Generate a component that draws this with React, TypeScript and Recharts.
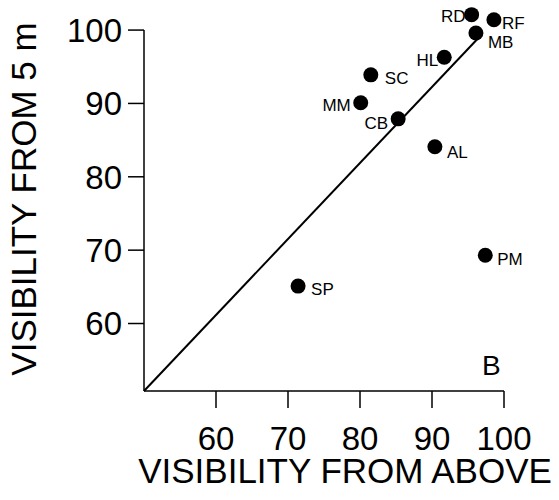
import { ScatterChart, Scatter, XAxis, YAxis, ReferenceLine, Label } from "recharts";

// sites, visibility from above (x) and from 5 m (y)
const sites = ["RD", "RF", "MB", "HL", "SC", "MM", "CB", "AL", "PM", "SP"];
const fromAbove = [95.5, 98.6, 96.1, 91.7, 81.5, 80.1, 85.3, 90.4, 97.4, 71.4];
const from5m = [102.1, 101.4, 99.6, 96.3, 93.9, 90.1, 87.9, 84.1, 69.3, 65.1];

const xTicks = [60, 70, 80, 90, 100];
const yTicks = [60, 70, 80, 90, 100];

const X_MIN = 50;
const Y_MIN = 50.8;

// fitted line drawn through the points
const fitLine = [
  { x: 50, y: 50.8 },
  { x: 97, y: 99.5 },
];

const data = sites.map((name, i) => ({ name, x: fromAbove[i], y: from5m[i] }));

const FONT = '"Liberation Sans", Arial, Helvetica, sans-serif';

// where each site's label sits next to its dot
const labelPlacement: Record<string, { anchor: "start" | "end"; dx: number; dy: number }> = {
  RD: { anchor: "end", dx: -6, dy: 7 },
  RF: { anchor: "start", dx: 8, dy: 9 },
  MB: { anchor: "start", dx: 12, dy: 15 },
  HL: { anchor: "end", dx: -6, dy: 9 },
  SC: { anchor: "start", dx: 14, dy: 9 },
  MM: { anchor: "end", dx: -10, dy: 8 },
  CB: { anchor: "end", dx: -10, dy: 10 },
  AL: { anchor: "start", dx: 12, dy: 11 },
  PM: { anchor: "start", dx: 12, dy: 10 },
  SP: { anchor: "start", dx: 13, dy: 9 },
};

function SiteDot(props: any) {
  const { cx, cy, payload } = props;
  const p = labelPlacement[payload.name] ?? { anchor: "start", dx: 12, dy: 8 };
  return (
    <g>
      <circle cx={cx} cy={cy} r={7.5} fill="#000" />
      <text
        x={cx + p.dx}
        y={cy + p.dy}
        textAnchor={p.anchor}
        fontSize={17}
        fontFamily={FONT}
        fill="#000"
      >
        {payload.name}
      </text>
    </g>
  );
}

function YTitle() {
  return (
    <text
      x={36}
      y={199}
      transform="rotate(-90 36 199)"
      textAnchor="middle"
      fontSize={35}
      fontFamily={FONT}
      fill="#000"
    >
      VISIBILITY FROM 5 m
    </text>
  );
}

export default function App() {
  const tickStyle = { fontSize: 33, fill: "#000", fontFamily: FONT };
  return (
    <div style={{ position: "relative", width: 559, height: 500, background: "#fff" }}>
      <style>{`body{margin:0}`}</style>
      <ScatterChart width={559} height={500} margin={{ top: 0, right: 55, bottom: 0, left: 0 }}>
        <XAxis
          type="number"
          dataKey="x"
          domain={[X_MIN, 100]}
          ticks={xTicks}
          height={109}
          tick={tickStyle}
          tickSize={17}
          tickMargin={19}
          stroke="#000"
          strokeWidth={1.5}
          tickLine={{ stroke: "#000", strokeWidth: 1.5 }}
        >
          <Label
            value="VISIBILITY FROM ABOVE"
            position="insideBottom"
            offset={17}
            dx={21}
            style={{ fontSize: 35, fill: "#000", fontFamily: FONT }}
          />
        </XAxis>
        <YAxis
          type="number"
          dataKey="y"
          domain={[Y_MIN, 104.1]}
          ticks={yTicks}
          width={144}
          axisLine={false}
          tick={tickStyle}
          tickSize={16}
          tickMargin={6}
          tickLine={{ stroke: "#000", strokeWidth: 1.5 }}
        >
          <Label content={<YTitle />} />
        </YAxis>
        <ReferenceLine
          segment={[
            { x: X_MIN, y: Y_MIN },
            { x: X_MIN, y: 100 },
          ]}
          stroke="#000"
          strokeWidth={1.5}
        />
        <ReferenceLine segment={fitLine} stroke="#000" strokeWidth={2} />
        <Scatter data={data} shape={<SiteDot />} isAnimationActive={false} />
      </ScatterChart>
      <div
        style={{
          position: "absolute",
          left: 482,
          top: 350,
          fontSize: 28,
          fontFamily: FONT,
          lineHeight: "32px",
        }}
      >
        B
      </div>
    </div>
  );
}
